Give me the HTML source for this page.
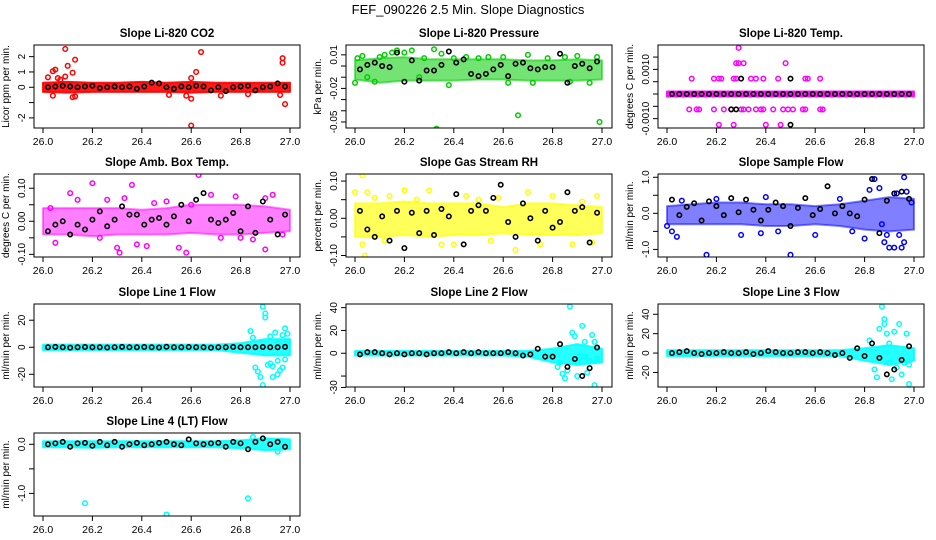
<!DOCTYPE html>
<html><head><meta charset="utf-8"><style>
html,body{margin:0;padding:0;background:#fff;}
svg{display:block;font-family:"Liberation Sans",Arial,sans-serif;}
</style></head><body>
<svg id="chart" width="936" height="540" viewBox="0 0 936 540">
<text x="468" y="14" text-anchor="middle" font-size="13">FEF_090226  2.5 Min. Slope Diagnostics</text>
</svg>
<script>
// shared x data
const bandT = [26.0,26.1,26.2,26.3,26.4,26.5,26.6,26.7,26.8,26.9,27.0];
const blackT = [26.02,26.05,26.08,26.11,26.14,26.17,26.2,26.23,26.26,26.29,26.32,26.35,26.38,26.41,26.44,26.47,26.5,26.53,26.56,26.59,26.62,26.65,26.68,26.71,26.74,26.77,26.8,26.83,26.86,26.89,26.92,26.95,26.98];
const xTicks = [26.0,26.2,26.4,26.6,26.8,27.0];
const xTickLabels = ["26.0","26.2","26.4","26.6","26.8","27.0"];

// CO2
const co2Hi = [0.3,0.35,0.3,0.3,0.35,0.3,0.35,0.3,0.3,0.3,0.3];
const co2Lo = [-0.3,-0.35,-0.3,-0.3,-0.3,-0.3,-0.35,-0.3,-0.3,-0.3,-0.3];
const co2X = [26.02,26.04,26.05,26.06,26.07,26.09,26.09,26.1,26.12,26.13,26.13,26.12,26.04,26.6,26.6,26.62,26.64,26.6,26.58,26.97,26.97,26.98,26.96,26.83,26.72,26.51];
const co2Y = [0.65,1.05,1.15,0.6,0.5,2.5,0.7,1.4,0.95,1.8,-0.6,-0.65,-0.55,-2.5,0.6,1.0,2.3,-0.75,-0.55,1.9,1.6,-1.1,-0.5,-0.45,-0.55,-0.5];
const co2Black = [0,0.05,0.1,0.05,0,0.05,0.1,-0.05,0,0.05,0,0.05,-0.1,0.05,0.3,0.25,0,-0.1,0.05,0,0.1,0.05,-0.2,0,-0.25,0,0.05,0.1,-0.2,0,0.05,0.25,0.05];

// Pressure
const presHi = [0.005,0.007,0.008,0.006,0.006,0.006,0.006,0.005,0.005,0.006,0.005];
const presLo = [-0.012,-0.015,-0.013,-0.013,-0.013,-0.012,-0.012,-0.013,-0.013,-0.013,-0.012];
const presX = [26.0,26.01,26.03,26.05,26.08,26.1,26.12,26.15,26.17,26.2,26.23,26.26,26.28,26.32,26.33,26.35,26.38,26.4,26.45,26.5,26.54,26.6,26.62,26.66,26.7,26.72,26.78,26.85,26.87,26.9,26.95,26.99,26.98];
const presY = [-0.015,0.007,0.009,-0.01,-0.014,0.008,0.01,0.012,0.014,0.012,0.014,-0.01,0.007,0.015,-0.056,0.011,-0.017,0.007,0.008,0.007,0.008,0.008,-0.015,-0.044,0.01,-0.015,0.007,0.008,-0.014,0.009,-0.015,-0.05,0.008];
const presBlack = [-0.003,0.001,0.003,0,-0.001,0.012,-0.014,0.005,-0.013,-0.004,-0.004,0.001,0.013,0.003,0.006,-0.007,-0.009,-0.007,-0.003,0.001,-0.009,0.002,0.003,-0.002,-0.003,-0.001,-0.001,0.011,-0.015,0,0.002,-0.002,0.004];

// Li-820 Temp
const tempHi = [0.0001,0.0001,0.0001,0.0001,0.0001,0.0001,0.0001,0.0001,0.0001,0.0001,0.0001];
const tempLo = [-0.0001,-0.0001,-0.0001,-0.0001,-0.0001,-0.0001,-0.0001,-0.0001,-0.0001,-0.0001,-0.0001];
const tempX = [26.1,26.19,26.21,26.22,26.27,26.28,26.34,26.36,26.39,26.45,26.56,26.57,26.62,26.09,26.12,26.13,26.19,26.23,26.26,26.3,26.31,26.33,26.36,26.38,26.39,26.43,26.47,26.49,26.51,26.55,26.56,26.62,26.63,26.28,26.29,26.31,26.48,26.29,26.21,26.27,26.4,26.46];
const tempY = [0.000625,0.000625,0.000625,0.000625,0.000625,0.000625,0.000625,0.000625,0.000625,0.000625,0.000625,0.000625,0.000625,-0.000625,-0.000625,-0.000625,-0.000625,-0.000625,-0.000625,-0.000625,-0.000625,-0.000625,-0.000625,-0.000625,-0.000625,-0.000625,-0.000625,-0.000625,-0.000625,-0.000625,-0.000625,-0.000625,-0.000625,0.00125,0.00125,0.00125,0.00125,0.001875,-0.00125,-0.00125,-0.00125,-0.00125];
const tempBlack = [0,0,0,0,0,0,0,0,0,0,0,0,0,0,0,0,0,0,0,0,0,0,0,0,0,0,0,0,0,0,0,0,0];
const tempBlackX = [26.3,26.5,26.26,26.28,26.5];
const tempBlackY = [0.000625,0.000625,-0.000625,-0.000625,-0.00125];

// Amb box temp
const ambHi = [0.04,0.04,0.04,0.04,0.035,0.04,0.05,0.05,0.05,0.045,0.035];
const ambLo = [-0.04,-0.04,-0.045,-0.04,-0.04,-0.04,-0.035,-0.04,-0.04,-0.035,-0.03];
const ambX = [26.03,26.05,26.11,26.14,26.2,26.23,26.26,26.3,26.31,26.33,26.36,26.38,26.42,26.45,26.5,26.55,26.58,26.6,26.63,26.68,26.72,26.78,26.8,26.85,26.9,26.93,26.97,26.9];
const ambY = [0.04,-0.065,0.085,0.065,0.115,-0.05,0.065,-0.08,-0.095,0.07,0.11,-0.07,-0.075,0.055,0.06,-0.08,-0.095,0.05,0.14,0.08,-0.05,0.075,-0.05,-0.055,0.07,0.08,-0.04,-0.085];
const ambBlack = [-0.03,-0.01,0,-0.04,-0.01,-0.025,0.005,0.03,-0.015,0.005,0.045,0.02,0.02,-0.01,0.005,0.01,-0.01,0.015,0.05,0,0.065,0.085,0.005,-0.005,0.005,0.025,-0.03,0.045,-0.035,0.06,0.005,-0.04,0.02];

// Gas stream RH
const rhHi = [0.04,0.04,0.045,0.04,0.04,0.04,0.03,0.04,0.04,0.035,0.03];
const rhLo = [-0.05,-0.05,-0.045,-0.05,-0.045,-0.045,-0.04,-0.045,-0.045,-0.045,-0.04];
const rhX = [26.0,26.03,26.05,26.04,26.03,26.08,26.12,26.14,26.2,26.25,26.3,26.35,26.4,26.45,26.5,26.55,26.58,26.65,26.7,26.75,26.8,26.88,26.92,26.96,26.98];
const rhY = [0.07,0.115,0.07,-0.1,-0.07,0.055,-0.06,0.06,0.075,0.05,0.075,-0.07,-0.07,0.06,0.05,-0.06,0.055,-0.085,0.07,-0.07,0.06,-0.07,0.045,-0.065,0.06];
const rhBlack = [0.02,-0.03,-0.05,0.005,-0.06,0.02,-0.08,0.015,-0.04,0.02,-0.045,0.025,0.005,0.065,-0.07,0.02,0.035,0.02,0.055,0.09,-0.01,-0.05,0.04,0,-0.06,0.02,-0.025,-0.01,0.07,0.02,0.03,-0.065,0.015];

// Sample flow
const sfHi = [0.2,0.25,0.3,0.3,0.25,0.25,0.2,0.25,0.35,0.45,0.4];
const sfLo = [-0.3,-0.3,-0.3,-0.3,-0.35,-0.35,-0.3,-0.35,-0.45,-0.5,-0.45];
const sfX = [26.0,26.02,26.04,26.06,26.16,26.2,26.3,26.38,26.4,26.45,26.5,26.6,26.7,26.75,26.8,26.82,26.84,26.86,26.88,26.89,26.9,26.92,26.93,26.95,26.96,26.96,26.97,26.94,26.87,26.99];
const sfY = [-0.35,-0.5,-0.65,0.35,-1.15,0.4,-0.6,-0.55,0.45,-0.5,-1.15,-0.6,0.4,-0.5,-0.7,0.65,0.95,0.7,-0.8,-0.6,-0.95,-0.95,0.55,-0.95,-0.8,1.0,0.6,-0.6,-0.3,0.3];
const sfBlack = [0.38,-0.05,0.18,0.28,-0.2,0.33,0.2,-0.05,0.42,0.03,0.38,0.1,-0.2,0.1,0.3,0.2,-0.35,0.15,0.42,-0.05,0.12,0.75,0,0.2,0,-0.08,0.38,0.95,-0.55,0.35,0.55,0.6,0.4];

// Line 1
const l1Hi = [2,2,2,2,2,2,2,2,3,6,6];
const l1Lo = [-2,-2,-2,-2,-2,-2,-2,-2,-4,-6,-6];
const l1X = [26.84,26.85,26.86,26.87,26.88,26.89,26.89,26.9,26.9,26.91,26.92,26.92,26.93,26.93,26.94,26.95,26.95,26.96,26.97,26.97,26.98,26.98,26.99,26.99,26.95];
const l1Y = [12,7,-15,-18,-22,-28,30,25,22,-13,8,-12,-14,-22,11,-10,3,-17,-15,9,14,-9,10,4,-20];
const l1Black = [0,0.3,0,-0.3,0,0.2,0,0,-0.2,0,0.3,0,0,0.2,0,-0.2,0.4,0,0,0.2,0,0,-0.3,0,0,0.2,0,0,0,0.2,0,0,0.3];

// Line 2
const l2Hi = [2,2,2,2,2,2,2,2,4,8,4];
const l2Lo = [-2,-2,-2,-2,-2,-2,-2,-3,-8,-10,-8];
const l2X = [26.82,26.83,26.84,26.85,26.86,26.87,26.88,26.89,26.9,26.91,26.92,26.93,26.94,26.95,26.96,26.97,26.97,26.98,26.9,26.93];
const l2Y = [-12,-8,-18,-22,-15,41,18,15,-20,-3,24,10,-17,-7,16,-28,10,-5,-8,-3];
const l2Black = [-1,1,1,0,-1,0,-1,0,0,-1,0,0,1,0,1,0,1,0,0,0,1,0,-2,-1,4,-3,-3,8,-12,-5,-20,-13,5];

// Line 3
const l3Hi = [3,3,3,3,3,3,3,3,5,8,5];
const l3Lo = [-3,-3,-3,-3,-3,-3,-3,-3,-8,-12,-8];
const l3X = [26.82,26.85,26.86,26.87,26.88,26.88,26.89,26.9,26.91,26.92,26.93,26.94,26.95,26.96,26.97,26.98,26.98,26.9,26.84];
const l3Y = [13,-25,25,48,35,30,20,-10,-27,22,-15,30,-22,-10,20,-12,-32,10,-17];
const l3Black = [0,1,2,0,-1,0,0,1,0,0,1,-1,0,2,1,0,0,1,1,0,1,0,-2,0,-5,5,-3,10,-5,-22,-17,-7,7];

// Line 4
const l4Hi = [0.06,0.06,0.06,0.06,0.06,0.06,0.06,0.06,0.08,0.12,0.1];
const l4Lo = [-0.06,-0.06,-0.07,-0.06,-0.06,-0.06,-0.06,-0.06,-0.08,-0.12,-0.1];
const l4X = [26.17,26.5,26.83,26.85,26.95];
const l4Y = [-1.2,-1.43,-1.1,0.15,-0.15];
const l4Black = [0,0.02,0.05,-0.05,0.02,0.03,-0.03,0.05,-0.02,0.05,-0.05,0,0.03,-0.02,0,0.03,0.05,0,-0.02,0.1,0.02,0,0.02,0.03,-0.05,0.05,0.02,-0.1,0.05,0.12,0,0.05,-0.05];

const NS = "http://www.w3.org/2000/svg";
const svg = document.getElementById("chart");
const colX = [34,346,658], rowY = [45,174,304,433], PW = 266, PH = 83;

function mk(tag, attrs, parent){
  const e = document.createElementNS(NS, tag);
  for (const k in attrs) e.setAttribute(k, attrs[k]);
  (parent||svg).appendChild(e);
  return e;
}

const panels = [
 {key:"co2",title:"Slope Li-820 CO2",ylab:"Licor ppm per min.",col:0,row:0,ylim:[-2.66,2.76],ticks:[-2,-1,0,1,2],labs:["-2","","0","1","2"],color:"#ff0000",op:0.9,hi:co2Hi,lo:co2Lo,px:co2X,py:co2Y,black:co2Black},
 {key:"pressure",title:"Slope Li-820 Pressure",ylab:"kPa per min.",col:1,row:0,ylim:[-0.0554,0.0188],ticks:[0.01,0,-0.01,-0.02,-0.03,-0.04,-0.05],labs:["0.01","","","-0.02","","","-0.05"],color:"#00cc00",op:0.55,hi:presHi,lo:presLo,px:presX,py:presY,black:presBlack},
 {key:"temp",title:"Slope Li-820 Temp.",ylab:"degrees C per min.",col:2,row:0,ylim:[-0.00138,0.00199],ticks:[0.0015,0.001,0.0005,0,-0.0005,-0.001],labs:["","0.0010","","","","-0.0010"],color:"#ff00ff",op:0.9,hi:tempHi,lo:tempLo,px:tempX,py:tempY,black:tempBlack,bx:tempBlackX,by:tempBlackY},
 {key:"amb",title:"Slope Amb. Box Temp.",ylab:"degrees C per min.",col:0,row:1,ylim:[-0.108,0.143],ticks:[0.1,0.05,0,-0.05,-0.1],labs:["0.10","","0.00","","-0.10"],color:"#ff00ff",op:0.5,hi:ambHi,lo:ambLo,px:ambX,py:ambY,black:ambBlack},
 {key:"rh",title:"Slope Gas Stream RH",ylab:"percent per min.",col:1,row:1,ylim:[-0.104,0.119],ticks:[0.1,0.05,0,-0.05,-0.1],labs:["0.10","","0.00","","-0.10"],color:"#ffff00",op:0.65,hi:rhHi,lo:rhLo,px:rhX,py:rhY,black:rhBlack},
 {key:"sample-flow",title:"Slope Sample Flow",ylab:"ml/min per min.",col:2,row:1,ylim:[-1.21,1.09],ticks:[1,0.5,0,-0.5,-1],labs:["1.0","","0.0","","-1.0"],color:"#0000ff",op:0.5,hi:sfHi,lo:sfLo,px:sfX,py:sfY,black:sfBlack},
 {key:"line1",title:"Slope Line 1 Flow",ylab:"ml/min per min.",col:0,row:2,ylim:[-29.4,32],ticks:[20,0,-20],labs:["20","0","-20"],color:"#00ffff",op:0.85,hi:l1Hi,lo:l1Lo,px:l1X,py:l1Y,black:l1Black},
 {key:"line2",title:"Slope Line 2 Flow",ylab:"ml/min per min.",col:1,row:2,ylim:[-29.6,43.2],ticks:[40,20,0,-20,-30],labs:["40","20","0","","-30"],color:"#00ffff",op:0.85,hi:l2Hi,lo:l2Lo,px:l2X,py:l2Y,black:l2Black},
 {key:"line3",title:"Slope Line 3 Flow",ylab:"ml/min per min.",col:2,row:2,ylim:[-35,50.6],ticks:[40,20,0,-20],labs:["40","20","0","-20"],color:"#00ffff",op:0.85,hi:l3Hi,lo:l3Lo,px:l3X,py:l3Y,black:l3Black},
 {key:"line4",title:"Slope Line 4 (LT) Flow",ylab:"ml/min per min.",col:0,row:3,ylim:[-1.46,0.23],ticks:[0,-0.5,-1],labs:["0.0","","-1.0"],color:"#00ffff",op:0.85,hi:l4Hi,lo:l4Lo,px:l4X,py:l4Y,black:l4Black}
];

panels.forEach(p => {
  const x0 = colX[p.col], y0 = rowY[p.row];
  const xs = v => x0 + 9 + (v - 26.0) * 247;
  const ys = v => y0 + PH - (v - p.ylim[0]) / (p.ylim[1] - p.ylim[0]) * PH;
  const g = mk("g", {});
  
  

  const t = mk("text", {x: x0 + PW/2, y: y0 - 8, "text-anchor":"middle", "font-size":"11.5", "font-weight":"bold"}, g);
  t.textContent = p.title;
  
  

  const yl = mk("text", {transform:`translate(${x0-25},${y0+PH/2}) rotate(-90)`, "text-anchor":"middle", "font-size":"10"}, g);
  yl.textContent = p.ylab;
  
  

  const cid = "clip-" + p.key;
  const cp = mk("clipPath", {id: cid}, g);
  mk("rect", {x:x0, y:y0, width:PW, height:PH}, cp);
  const plot = mk("g", {"clip-path":`url(#${cid})`}, g);
  
  

  let d = "";
  bandT.forEach((tv,i) => { d += (i ? "L" : "M") + xs(tv).toFixed(1) + "," + ys(p.hi[i]).toFixed(1); });
  for (let i = bandT.length - 1; i >= 0; i--) d += "L" + xs(bandT[i]).toFixed(1) + "," + ys(p.lo[i]).toFixed(1);
  const band = mk("path", {d: d + "Z", fill: p.color, "fill-opacity": p.op, stroke: p.color, "stroke-opacity": p.op, "stroke-width":"2", "stroke-linejoin":"round"}, plot);
  
  

  p.px.forEach((xv,i) => {
    const c = mk("circle", {cx: xs(xv), cy: ys(p.py[i]), r:2.3, fill:"none", stroke:p.color, "stroke-width":"1.5"}, plot);
    
    
  });
  p.black.forEach((yv,i) => {
    const c = mk("circle", {cx: xs(blackT[i]), cy: ys(yv), r:2.2, fill:"none", stroke:"#000", "stroke-width":"1.6"}, plot);
    
    
  });
  if (p.bx) p.bx.forEach((xv,i) => {
    const c = mk("circle", {cx: xs(xv), cy: ys(p.by[i]), r:2.2, fill:"none", stroke:"#000", "stroke-width":"1.6"}, plot);
    
    
  });

  const box = mk("rect", {x:x0, y:y0, width:PW, height:PH, fill:"none", stroke:"#000", "stroke-width":"1"}, g);
  
  

  xTicks.forEach((tv,i) => {
    const X = xs(tv);
    const tk = mk("line", {x1:X, x2:X, y1:y0+PH, y2:y0+PH+5, stroke:"#000"}, g);
    
    
    const lb = mk("text", {x:X, y:y0+PH+17, "text-anchor":"middle", "font-size":"10.5"}, g);
    lb.textContent = xTickLabels[i];
    
    
  });
  p.ticks.forEach((tv,i) => {
    const Y = ys(tv);
    const tk = mk("line", {x1:x0-5, x2:x0, y1:Y, y2:Y, stroke:"#000"}, g);
    
    
    if (p.labs[i]) {
      const lb = mk("text", {transform:`translate(${x0-9},${Y}) rotate(-90)`, "text-anchor":"middle", "font-size":"10"}, g);
      lb.textContent = p.labs[i];
      
      
    }
  });
});
</script>
</body></html>
